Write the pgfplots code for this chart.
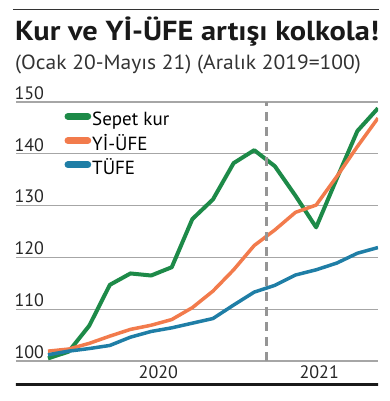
\documentclass[border=0pt]{standalone}
\usepackage{pgfplots}
\pgfplotsset{compat=1.18}
\usepackage{fontspec}
\setmainfont{PT Sans}
\definecolor{cgreen}{HTML}{1D8A48}
\definecolor{corange}{HTML}{F27B4C}
\definecolor{cblue}{HTML}{1F7EA6}
\definecolor{cgrid}{HTML}{A6A6A6}
\begin{document}
\begin{tikzpicture}
\useasboundingbox (-16pt,-15pt) rectangle (374pt,386pt);
\draw[line width=1pt, black!80] (-3pt,376pt) -- (363pt,376pt);
\node[anchor=base west, inner sep=0pt, font=\fontsize{27.5}{30}\selectfont\bfseries, text=black!90] at (-1pt,345pt) {\scalebox{1.105}[1]{Kur ve Yİ-ÜFE artışı kolkola!}};
\node[anchor=base west, inner sep=0pt, font=\fontsize{20.5}{24}\selectfont, text=black!80] at (-1pt,316.7pt) {\scalebox{1.05}[1]{(Ocak 20-Mayıs 21) (Aralık 2019=100)}};
\begin{axis}[
  at={(0,0)}, anchor=south west, scale only axis,
  width=362pt, height=284pt,
  xmin=-1.55, xmax=16, ymin=95.17, ymax=150,
  axis line style={draw=none},
  major tick length=0pt,
  ytick={100,110,...,150},
  ymajorgrids, grid style={cgrid, line width=1.2pt},
  xtick={5.35,13.15}, xticklabels={2020,2021},
  tick label style={font=\fontsize{18}{21}\selectfont, text=black!85},
  /pgf/number format/assume math mode=true,
  yticklabel style={anchor=south west, xshift=-5pt, yshift=-1pt},
  xticklabel style={anchor=center, yshift=14pt},
  legend cell align=left,
  legend style={draw=none, fill=none, anchor=north west, at={(0.1335,0.973)},
    inner sep=0pt,
    font=\fontsize{19}{22}\selectfont, row sep=2.2pt,
    nodes={text height=14pt, text depth=4pt, inner ysep=2pt, inner xsep=1pt}},
  legend image code/.code={\draw[line width=7pt, line cap=round, #1] (0pt,4.5pt) -- (19.7pt,4.5pt);},
]
\addplot[cgreen, line width=4pt, line join=round] coordinates {
(0,100.5) (1,101.8) (2,106.8) (3,114.7) (4,116.9) (5,116.5) (6,118.1) (7,127.4) (8,131.2)
(9,138.2) (10,140.7) (11,137.6) (12,131.9) (13,125.8) (14,135.2) (15,144.4) (16,148.8)};
\addlegendentry{Sepet kur}
\addplot[corange, line width=3.5pt, line join=round] coordinates {
(0,101.9) (1,102.3) (2,103.4) (3,104.8) (4,106.1) (5,106.9) (6,108.0) (7,110.3) (8,113.5)
(9,117.6) (10,122.3) (11,125.3) (12,128.7) (13,130.1) (14,135.6) (15,141.4) (16,146.9)};
\addlegendentry{Yİ-ÜFE}
\addplot[cblue, line width=3.5pt, line join=round] coordinates {
(0,101.2) (1,101.9) (2,102.4) (3,103.0) (4,104.6) (5,105.7) (6,106.4) (7,107.3) (8,108.2)
(9,110.8) (10,113.3) (11,114.6) (12,116.6) (13,117.6) (14,118.9) (15,120.8) (16,121.9)};
\addlegendentry{TÜFE}
\addplot[cgrid!90!black, line width=2.5pt, dash pattern=on 9pt off 6pt, forget plot] coordinates {(10.6,100) (10.6,150)};
\draw[line width=5.3pt, black!90] ([xshift=-1pt]rel axis cs:0,0) -- ([xshift=1pt]rel axis cs:1,0);
\end{axis}
\end{tikzpicture}
\end{document}
